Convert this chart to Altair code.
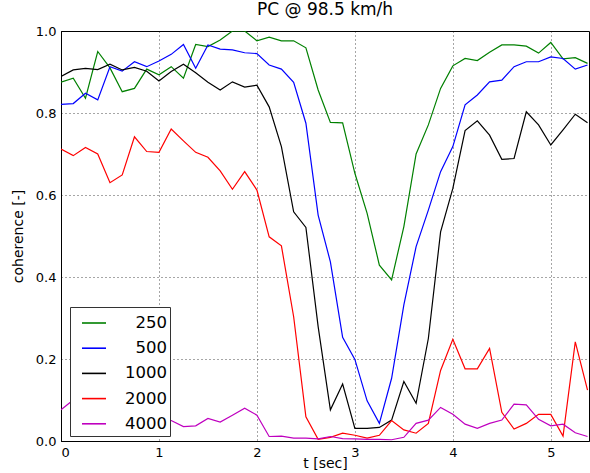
import altair as alt
import pandas as pd

# sample times (s)
times = [i * 0.125 for i in range(44)]

labels = ["250", "500", "1000", "2000", "4000"]
colors = ["#008000", "#0000ff", "#000000", "#ff0000", "#bf00bf"]

c250 = [0.875, 0.885, 0.836, 0.95, 0.91, 0.852, 0.86, 0.907, 0.893, 0.913, 0.885, 0.967, 0.962, 0.978,
        1.0, 1.0, 0.976, 0.985, 0.976, 0.976, 0.959, 0.856, 0.777, 0.776, 0.653, 0.555, 0.429, 0.393,
        0.523, 0.70, 0.771, 0.86, 0.915, 0.933, 0.928, 0.948, 0.966, 0.966, 0.963, 0.946, 0.972, 0.932,
        0.935, 0.921]
c500 = [0.821, 0.823, 0.848, 0.832, 0.913, 0.902, 0.925, 0.913, 0.927, 0.943, 0.967, 0.909, 0.966, 0.956,
        0.954, 0.947, 0.945, 0.917, 0.907, 0.875, 0.775, 0.551, 0.437, 0.253, 0.199, 0.098, 0.043, 0.153,
        0.332, 0.474, 0.563, 0.657, 0.718, 0.82, 0.844, 0.876, 0.880, 0.913, 0.925, 0.925, 0.937, 0.933,
        0.907, 0.917]
c1000 = [0.889, 0.905, 0.909, 0.906, 0.919, 0.905, 0.911, 0.902, 0.878, 0.901, 0.919, 0.898, 0.875, 0.856,
         0.876, 0.863, 0.868, 0.815, 0.718, 0.559, 0.521, 0.279, 0.076, 0.139, 0.031, 0.031, 0.033, 0.051,
         0.145, 0.092, 0.25, 0.51, 0.616, 0.757, 0.781, 0.746, 0.687, 0.689, 0.803, 0.771, 0.722, 0.759,
         0.797, 0.776]
c2000 = [0.712, 0.696, 0.716, 0.70, 0.63, 0.649, 0.742, 0.706, 0.704, 0.761, 0.732, 0.704, 0.692, 0.659,
         0.614, 0.657, 0.612, 0.498, 0.476, 0.303, 0.059, 0.004, 0.009, 0.019, 0.014, 0.007, 0.014, 0.05,
         0.027, 0.019, 0.043, 0.172, 0.248, 0.176, 0.176, 0.226, 0.07, 0.029, 0.043, 0.065, 0.065, 0.012,
         0.242, 0.124]
c4000 = [0.076, 0.1, 0.09, 0.075, 0.065, 0.07, 0.075, 0.065, 0.055, 0.05, 0.035, 0.037, 0.055, 0.046,
         0.063, 0.08, 0.063, 0.011, 0.012, 0.007, 0.007, 0.005, 0.011, 0.006, 0.005, 0.004, 0.004, 0.003,
         0.009, 0.043, 0.051, 0.082, 0.065, 0.041, 0.031, 0.043, 0.051, 0.09, 0.088, 0.053, 0.037, 0.041,
         0.02, 0.011]

series = dict(zip(labels, [c250, c500, c1000, c2000, c4000]))
rows = []
for k, vals in series.items():
    for t, v in zip(times, vals):
        rows.append({"band": k, "t": t, "coh": v})
df = pd.DataFrame(rows)

FONT = "DejaVu Sans"

chart = alt.Chart(df).mark_line(strokeWidth=1.2, clip=True).encode(
    x=alt.X("t:Q",
            scale=alt.Scale(domain=[0, 5.39], nice=False, zero=False),
            axis=alt.Axis(title="t [sec]", values=[0, 1, 2, 3, 4, 5], format="d")),
    y=alt.Y("coh:Q",
            scale=alt.Scale(domain=[0, 1], nice=False),
            axis=alt.Axis(title="coherence [-]", values=[0, 0.2, 0.4, 0.6, 0.8, 1.0], format=".1f")),
    color=alt.Color("band:N",
                    scale=alt.Scale(domain=labels, range=colors),
                    sort=labels,
                    legend=alt.Legend(
                        title=None,
                        orient="none",
                        legendX=9,
                        legendY=276,
                        fillColor="white",
                        strokeColor="#333333",
                        padding=3,
                        symbolType="stroke",
                        symbolSize=576,
                        symbolStrokeWidth=1.6,
                        symbolOffset=8,
                        labelFontSize=16.5,
                        labelFont=FONT,
                        labelAlign="right",
                        labelOffset=60,
                        rowPadding=3.2,
                    )),
).properties(
    width=528,
    height=410,
    title=alt.TitleParams("PC @ 98.5 km/h", fontSize=17, font=FONT, fontWeight="normal", offset=6),
    autosize=alt.AutoSizeParams(type="none"),
    padding={"left": 61, "top": 31, "right": 1, "bottom": 32},
).configure_view(
    stroke="black", strokeWidth=1
).configure_axis(
    labelFont=FONT, titleFont=FONT, labelFontSize=13, titleFontSize=14,
    titleFontWeight="normal", labelColor="black", titleColor="black",
    domainColor="black", tickColor="black", ticks=False, labelPadding=5,
    gridColor="black", gridDash=[1, 3], gridOpacity=0.7, gridWidth=1,
).configure_axisX(titlePadding=-3).configure_axisY(titlePadding=10)

chart.save("out.html", embed_options={"renderer": "svg", "actions": False})
